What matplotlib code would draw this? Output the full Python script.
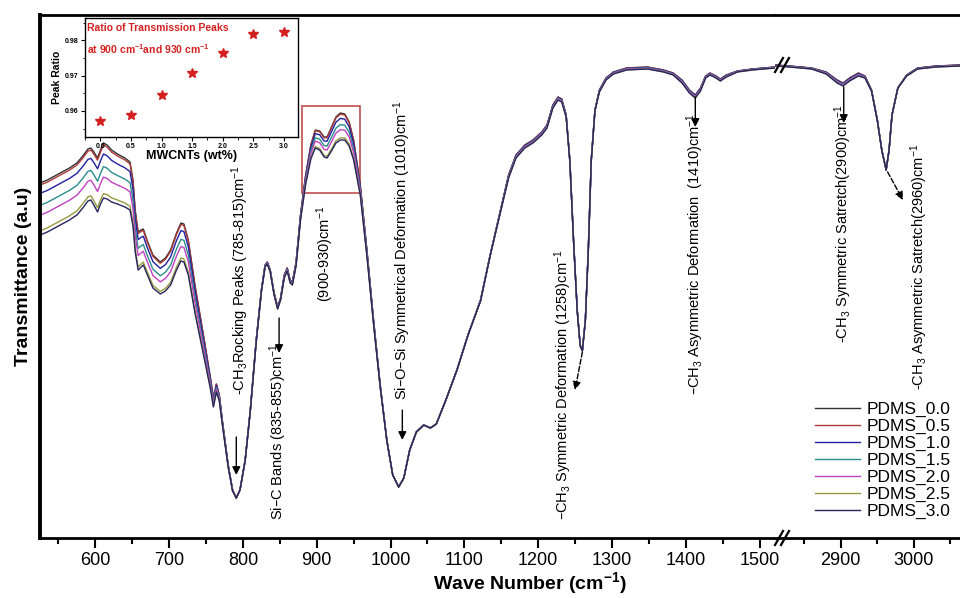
import numpy as np
import matplotlib
matplotlib.use("Agg")
import matplotlib.pyplot as plt
from matplotlib.lines import Line2D
from matplotlib.patches import Rectangle

plt.rcParams['font.family'] = ['Liberation Sans Narrow', 'Liberation Sans', 'DejaVu Sans']
plt.rcParams['mathtext.default'] = 'regular'

# low wavenumber part (525-1521 cm-1): top curve (PDMS_0.0) and spread down to PDMS_3.0
wn_low = np.array([525, 535, 545, 555, 565, 575, 583, 590, 594, 598, 603, 607, 611, 616, 622, 630,
                   640, 647, 651, 654, 658, 662, 665, 670, 678, 688, 695, 702, 710, 716, 720, 726,
                   735, 746, 752, 756, 760, 764, 768, 772, 780, 786, 791, 796, 803, 810, 818, 825,
                   830, 833, 837, 842, 847, 851, 856, 860, 864, 867, 872, 878, 885, 892, 898, 904,
                   910, 914, 920, 926, 932, 938, 944, 950, 959, 968, 977, 986, 995, 1003, 1011, 1018,
                   1026, 1035, 1045, 1054, 1062, 1075, 1090, 1105, 1122, 1135, 1149, 1160, 1170, 1182,
                   1193, 1205, 1212, 1220, 1227, 1232, 1238, 1243, 1248, 1253, 1257, 1260, 1264, 1268,
                   1272, 1277, 1283, 1292, 1302, 1320, 1348, 1370, 1383, 1395, 1405, 1413, 1420, 1427,
                   1433, 1441, 1447, 1455, 1470, 1490, 1521])
t_low = np.array([35.5, 35.8, 36.2, 36.6, 37.0, 37.5, 38.2, 38.9, 39.0, 38.6, 38.0, 38.8, 39.5, 39.3, 38.8, 38.4,
                  38.0, 37.6, 35.8, 32.8, 30.6, 30.8, 30.9, 29.8, 28.3, 27.6, 28.0, 28.8, 30.5, 31.5, 31.4, 29.8,
                  25.3, 20.5, 17.8, 16.0, 14.0, 15.4, 14.3, 11.8, 7.3, 4.8, 4.0, 4.8, 7.8, 12.8, 19.8, 24.8,
                  27.3, 27.6, 26.8, 24.6, 23.1, 24.0, 26.3, 27.0, 25.8, 25.6, 27.6, 32.3, 36.3, 39.3, 40.8, 40.7,
                  40.1, 40.1, 41.1, 42.1, 42.5, 42.4, 41.6, 39.8, 35.3, 28.8, 21.8, 15.3, 9.8, 6.3, 5.1, 6.0,
                  8.8, 10.6, 11.3, 11.0, 11.4, 13.8, 16.8, 20.3, 23.8, 28.3, 32.8, 36.3, 38.3, 39.3,
                  39.8, 40.6, 41.3, 43.3, 44.1, 43.9, 42.3, 37.8, 29.8, 22.8, 19.3, 18.8, 21.8, 28.8,
                  37.8, 42.8, 44.8, 46.0, 46.6, 47.0, 47.1, 46.8, 46.5, 45.8, 44.8, 44.3, 45.0, 46.2,
                  46.5, 46.2, 45.9, 46.3, 46.7, 46.9, 47.1])
d_low = np.array([5.2, 5.2, 5.2, 5.2, 5.2, 5.2, 5.2, 5.2, 5.2, 5.3, 5.4, 5.4, 5.5, 5.4, 5.2, 5.0,
                  4.9, 4.8, 4.6, 4.2, 3.8, 3.7, 3.6, 3.4, 3.3, 3.2, 3.3, 3.5, 3.7, 3.8, 3.8, 3.5,
                  2.8, 2.0, 1.5, 1.1, 0.9, 0.8, 0.6, 0.4, 0.2, 0.1, 0.0, 0.0, 0.1, 0.1, 0.2, 0.2,
                  0.2, 0.2, 0.2, 0.2, 0.2, 0.2, 0.3, 0.3, 0.3, 0.3, 0.4, 0.5, 0.9, 1.4, 1.8, 1.9,
                  2.0, 2.1, 2.4, 2.6, 2.7, 2.6, 2.4, 2.0, 1.0, 0.6, 0.4, 0.2, 0.1, 0.0, 0.0, 0.0,
                  0.0, 0.0, 0.0, 0.0, 0.0, 0.0, 0.0, 0.0, 0.1, 0.1, 0.2, 0.3, 0.3, 0.3,
                  0.3, 0.3, 0.3, 0.3, 0.3, 0.3, 0.2, 0.2, 0.1, 0.1, 0.1, 0.1, 0.1, 0.1,
                  0.1, 0.1, 0.2, 0.2, 0.2, 0.2, 0.2, 0.2, 0.2, 0.3, 0.3, 0.3, 0.3, 0.2,
                  0.2, 0.2, 0.2, 0.2, 0.1, 0.1, 0.1])

# high wavenumber part (2810-3063 cm-1)
wn_high = np.array([2810, 2830, 2860, 2880, 2895, 2903, 2912, 2924, 2933, 2942, 2950, 2956, 2962,
                    2966, 2970, 2978, 2990, 3005, 3030, 3063])
t_high = np.array([47.3, 47.2, 47.0, 46.6, 45.8, 45.5, 46.0, 46.5, 46.2, 44.8, 41.8, 38.8, 36.8,
                   38.8, 42.3, 45.0, 46.3, 47.0, 47.2, 47.3])
d_high = np.array([0.1, 0.1, 0.1, 0.2, 0.3, 0.3, 0.3, 0.3, 0.2, 0.1, 0.1, 0.0, 0.0,
                   0.0, 0.0, 0.0, 0.1, 0.1, 0.1, 0.1])

labels = ['PDMS_0.0', 'PDMS_0.5', 'PDMS_1.0', 'PDMS_1.5', 'PDMS_2.0', 'PDMS_2.5', 'PDMS_3.0']
colors = ['#303030', '#b03a3a', '#2020a0', '#2a8c8c', '#c040c0', '#9a9a40', '#252560']
weights = [0.0, 0.04, 0.2, 0.43, 0.62, 0.92, 1.0]

# inset data
mwcnt = [0.0, 0.5, 1.0, 1.5, 2.0, 2.5, 3.0]
ratio = [0.9571, 0.9589, 0.9646, 0.9706, 0.9763, 0.9817, 0.9823]
ratio_err = [0.0005, 0.0005, 0.0005, 0.0005, 0.0006, 0.0005, 0.0006]

W, H = 960, 598
fig = plt.figure(figsize=(9.6, 5.98), dpi=100)
ax1 = fig.add_axes([40 / W, 60 / H, 735 / W, 523 / H])
ax2 = fig.add_axes([775 / W, 60 / H, 185 / W, 523 / H], sharey=ax1)

for lab, col, wgt in zip(labels, colors, weights):
    ax1.plot(wn_low, t_low - wgt * d_low, color=col, lw=1.0, label=lab)
    ax2.plot(wn_high, t_high - wgt * d_high, color=col, lw=1.0)

ax1.set_xlim(525, 1521)
ax2.set_xlim(2810, 3063)
ax1.set_ylim(0, 52.3)

for ax in (ax1, ax2):
    ax.tick_params(axis='x', direction='out', length=7, width=1.5, labelsize=13, pad=3)
    ax.tick_params(axis='x', which='minor', direction='out', length=4, width=1.5)
    ax.tick_params(axis='y', left=False, labelleft=False)
    for s in ('top', 'bottom', 'left', 'right'):
        ax.spines[s].set_linewidth(2)
ax1.spines['left'].set_linewidth(2.8)
ax1.spines['right'].set_visible(False)
ax2.spines['left'].set_visible(False)
ax2.spines['right'].set_visible(False)

ax1.set_xticks(np.arange(600, 1501, 100))
ax1.set_xticks(np.arange(550, 1501, 50), minor=True)
ax2.set_xticks([2900, 3000])
ax2.set_xticks([2850, 2950, 3050], minor=True)

ax1.set_ylabel('Transmittance (a.u)', fontsize=14, fontweight='bold',
               family=['Liberation Sans', 'DejaVu Sans'], labelpad=6)
fig.text(530 / W, 1 - 583 / H, 'Wave Number (cm$^{-1}$)', ha='center', va='center',
         fontsize=14, fontweight='bold', family=['Liberation Sans', 'DejaVu Sans'])

# axis break marks
for xb, yb in [(782, 538), (782, 65)]:
    for dx in (-3, 3):
        fig.add_artist(Line2D([(xb + dx - 4) / W, (xb + dx + 4) / W],
                              [1 - (yb + 7) / H, 1 - (yb - 7) / H],
                              color='black', lw=1.6))

# red box around 900-930 region
ax1.add_patch(Rectangle((880.5, 34.5), 78.5, 8.7, fill=False, ec='#c0504d', lw=1.2))

# annotations
fs = 10.5
def vtext(ax, x, y, s):
    ax.text(x, y, s, rotation=90, ha='center', va='bottom', fontsize=fs)

def arrow(ax, x0, y0, x1, y1, ls='-'):
    ax.annotate('', xy=(x1, y1), xytext=(x0, y0),
                arrowprops=dict(arrowstyle='-|>', color='black', lw=1.0, ls=ls,
                                mutation_scale=12, shrinkA=0, shrinkB=0))

vtext(ax1, 796, 14.3, '-CH$_3$Rocking Peaks (785-815)cm$^{-1}$')
arrow(ax1, 791, 10.1, 791, 6.3)
vtext(ax1, 848, 1.8, 'Si\u2013C Bands (835-855)cm$^{-1}$')
arrow(ax1, 849, 22.0, 849, 18.5)
vtext(ax1, 912, 23.6, '(900-930)cm$^{-1}$')
vtext(ax1, 1016, 13.8, 'Si\u2013O\u2013Si Symmetrical Deformation (1010)cm$^{-1}$')
arrow(ax1, 1016, 12.8, 1016, 9.8)
vtext(ax1, 1234, 1.8, '\u2013CH$_3$ Symmetric Deformation (1258)cm$^{-1}$')
arrow(ax1, 1260, 18.6, 1250, 14.8, ls='--')
vtext(ax1, 1413, 14.3, '\u2013CH$_3$ Asymmetric Deformation  (1410)cm$^{-1}$')
arrow(ax1, 1413, 44.1, 1413, 41.1)
vtext(ax2, 2903, 19.5, '-CH$_3$ Symmetric Satretch(2900)cm$^{-1}$')
arrow(ax2, 2904, 45.1, 2904, 41.5)
vtext(ax2, 3007, 14.8, '-CH$_3$ Asymmetric Satretch(2960)cm$^{-1}$')
arrow(ax2, 2964, 36.6, 2985, 33.8, ls='--')

# legend
handles, labs = ax1.get_legend_handles_labels()
fig.legend(handles, labs, loc='upper left', bbox_to_anchor=(815 / W, 1 - 402 / H),
           frameon=False, handlelength=2.6, handletextpad=0.35,
           labelspacing=0.1, borderpad=0, borderaxespad=0,
           prop={'family': ['Liberation Sans', 'DejaVu Sans'], 'size': 12.5})

# inset
axin = fig.add_axes([85 / W, 1 - 137 / H, 213 / W, 119 / H])
axin.errorbar(mwcnt, ratio, yerr=ratio_err, fmt='*', color='#d42020', ms=7,
              elinewidth=0.8, capsize=0)
axin.set_xlim(-0.25, 3.23)
axin.set_ylim(0.9526, 0.9863)
axin.set_xticks(mwcnt)
axin.set_xticklabels(['0.0', '0.5', '1.0', '1.5', '2.0', '2.5', '3.0'])
axin.set_xticks(np.arange(-0.25, 3.2, 0.25), minor=True)
axin.set_yticks([0.96, 0.97, 0.98])
axin.set_yticks([0.955, 0.965, 0.975, 0.985], minor=True)
axin.tick_params(labelsize=5, length=3, width=0.8, pad=1.5)
axin.tick_params(which='minor', length=1.8, width=0.6)
for t in axin.get_xticklabels() + axin.get_yticklabels():
    t.set_fontweight('bold')
for s in axin.spines.values():
    s.set_linewidth(1.0)
axin.set_ylabel('Peak Ratio', fontsize=7.5, fontweight='bold',
                family=['Liberation Sans', 'DejaVu Sans'], labelpad=2)
axin.set_xlabel('MWCNTs (wt%)', fontsize=9, fontweight='bold',
                family=['Liberation Sans', 'DejaVu Sans'], labelpad=0)
axin.text(0.01, 0.96, 'Ratio of Transmission Peaks', transform=axin.transAxes,
          color='#d42020', fontsize=7.5, fontweight='bold', va='top', ha='left',
          family=['Liberation Sans', 'DejaVu Sans'])
axin.text(0.01, 0.80, 'at 900 cm$^{-1}$and 930 cm$^{-1}$', transform=axin.transAxes,
          color='#d42020', fontsize=7.5, fontweight='bold', va='top', ha='left',
          family=['Liberation Sans', 'DejaVu Sans'])

fig.savefig('out.png', dpi=100)
